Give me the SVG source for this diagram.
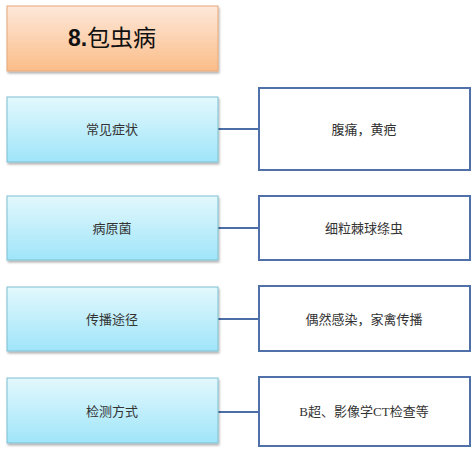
<svg xmlns="http://www.w3.org/2000/svg" width="474" height="455" viewBox="0 0 474 455">
<defs>
<linearGradient id="gOrange" x1="0" y1="0" x2="0" y2="1"><stop offset="0" stop-color="#fde8da"/><stop offset="1" stop-color="#fbbd88"/></linearGradient>
<linearGradient id="gBlue" x1="0" y1="0" x2="0" y2="1"><stop offset="0" stop-color="#e3f8fd"/><stop offset="1" stop-color="#9fe5f9"/></linearGradient>
<filter id="sh" x="-5%" y="-10%" width="110%" height="130%"><feDropShadow dx="1" dy="2" stdDeviation="1.2" flood-color="#000" flood-opacity="0.3"/></filter>
</defs>
<style>
.title{fill:url(#gOrange);stroke:#e6a878;stroke-width:1;filter:url(#sh)}
.left{fill:url(#gBlue);stroke:#7fbfd1;stroke-width:1;filter:url(#sh)}
.right{fill:#fff;stroke:#4f70a8;stroke-width:2}
.conn line{stroke:#4a6ea5;stroke-width:2}
text{font-family:"Liberation Serif","Noto Sans CJK SC",serif;font-size:13px;fill:#333;text-anchor:middle;dominant-baseline:central}
.tt{font-family:"Liberation Sans","Noto Sans CJK SC",sans-serif;font-size:23px;fill:#111}
</style>
<rect width="474" height="455" fill="#fff"/>
<g id="title"><rect class="title" x="7" y="6" width="211" height="65"/><text class="tt" x="112" y="38"><tspan font-weight="bold">8.</tspan>包虫病</text></g>
<g class="conn" id="connectors">
<line x1="218" y1="129" x2="259" y2="129"/>
<line x1="218" y1="228" x2="259" y2="228"/>
<line x1="218" y1="319" x2="259" y2="319"/>
<line x1="218" y1="412" x2="259" y2="412"/>
</g>
<g id="n1"><rect class="left" x="7" y="97" width="211" height="65"/><text x="112" y="129">常见症状</text></g>
<g id="n1r"><rect class="right" x="259" y="88" width="211" height="82"/><text x="364" y="129">腹痛，黄疤</text></g>
<g id="n2"><rect class="left" x="7" y="196" width="211" height="64"/><text x="112" y="228">病原菌</text></g>
<g id="n2r"><rect class="right" x="259" y="196" width="211" height="64"/><text x="364" y="228">细粒棘球绦虫</text></g>
<g id="n3"><rect class="left" x="7" y="287" width="211" height="64"/><text x="112" y="319">传播途径</text></g>
<g id="n3r"><rect class="right" x="259" y="286" width="211" height="65"/><text x="364" y="319">偶然感染，家禽传播</text></g>
<g id="n4"><rect class="left" x="7" y="378" width="211" height="65"/><text x="112" y="411">检测方式</text></g>
<g id="n4r"><rect class="right" x="259" y="377" width="211" height="69"/><text x="364" y="411">B超、影像学CT检查等</text></g>
</svg>
